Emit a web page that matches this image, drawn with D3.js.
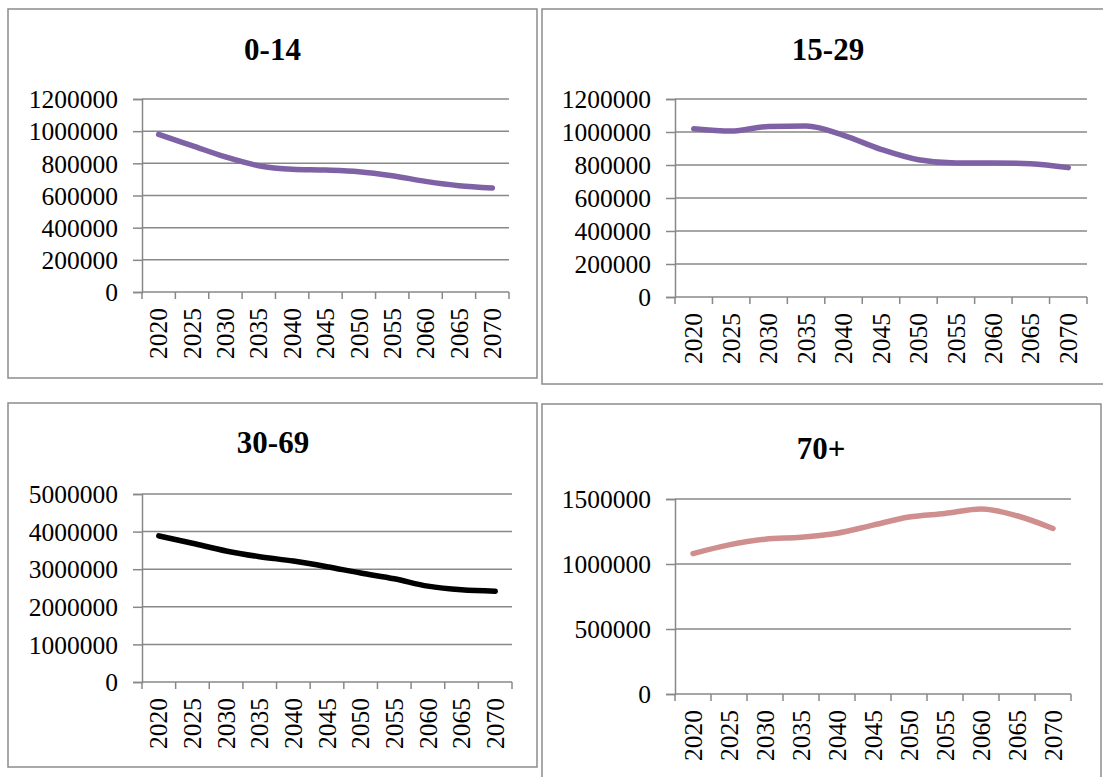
<!DOCTYPE html>
<html>
<head>
<meta charset="utf-8">
<script src="https://cdn.jsdelivr.net/npm/d3@7/dist/d3.min.js"></script>
<style>
  html, body { margin: 0; padding: 0; background: #fff; }
  svg { display: block; }
  text { font-family: "Liberation Serif", "Times New Roman", serif; fill: #000; }
</style>
</head>
<body>
<svg id="chart" width="1103" height="777"></svg>
<script>
// Projection years shared by all four age groups
const years = ["2020", "2025", "2030", "2035", "2040", "2045", "2050", "2055", "2060", "2065", "2070"];

// Population by age group
const age0to14 = [980000, 910000, 840000, 785000, 763000, 758000, 748000, 723000, 688000, 661000, 647000];
const age15to29 = [1020000, 1006000, 1034000, 1036000, 980000, 895000, 832000, 812000, 812000, 808000, 784000];
const age30to69 = [3886000, 3690000, 3485000, 3333000, 3217000, 3066000, 2897000, 2745000, 2549000, 2451000, 2415000];
const age70plus = [1080000, 1147000, 1191000, 1206000, 1237000, 1299000, 1361000, 1389000, 1423000, 1371000, 1273000];

// Value-axis tick labels
const ticksSmall = [0, 200000, 400000, 600000, 800000, 1000000, 1200000];
const ticksMid = [0, 1000000, 2000000, 3000000, 4000000, 5000000];
const ticksOld = [0, 500000, 1000000, 1500000];

const titles = ["0-14", "15-29", "30-69", "70+"];

// Frame, plot area and title placement of each small chart
const panels = [
  { title: titles[0], values: age0to14, ticks: ticksSmall, color: "#7f62a6",
    frame: [8, 9, 529, 369], plot: [142, 509, 99, 292], titleX: 272.5, titleY: 60 },
  { title: titles[1], values: age15to29, ticks: ticksSmall, color: "#7f62a6",
    frame: [542, 9, 575, 375], plot: [675, 1087, 99, 297], titleX: 828, titleY: 60 },
  { title: titles[2], values: age30to69, ticks: ticksMid, color: "#000000",
    frame: [8, 403, 529, 364], plot: [142, 512, 494, 682], titleX: 273, titleY: 453 },
  { title: titles[3], values: age70plus, ticks: ticksOld, color: "#d08f8f",
    frame: [542, 404, 559, 420], plot: [675, 1071, 499, 694], titleX: 821, titleY: 459 }
];

const svg = d3.select("#chart");
const gridColor = "#888888";

panels.forEach(p => {
  const g = svg.append("g");
  const [fx, fy, fw, fh] = p.frame;
  const [left, right, top, bottom] = p.plot;

  // outer frame
  g.append("rect")
    .attr("x", fx).attr("y", fy).attr("width", fw).attr("height", fh)
    .attr("fill", "#fff").attr("stroke", "#8c8c8c").attr("stroke-width", 1.5);

  // title
  g.append("text")
    .attr("x", p.titleX).attr("y", p.titleY)
    .attr("text-anchor", "middle")
    .style("font-size", "31px").style("font-weight", "bold")
    .text(p.title);

  const x = d3.scaleBand().domain(years).range([left, right]).paddingInner(0).paddingOuter(0);
  const y = d3.scaleLinear().domain([0, d3.max(p.ticks)]).range([bottom, top]);

  // horizontal gridlines
  g.append("g").selectAll("line").data(p.ticks.filter(t => t > 0)).join("line")
    .attr("x1", left).attr("x2", right)
    .attr("y1", d => y(d)).attr("y2", d => y(d))
    .attr("stroke", gridColor).attr("stroke-width", 1.5);

  // value axis
  const yAxis = d3.axisLeft(y).tickValues(p.ticks).tickSize(9).tickPadding(15)
    .tickFormat(d3.format("d"));
  const ya = g.append("g").attr("transform", `translate(${left},0)`).call(yAxis);
  ya.select(".domain").attr("stroke", gridColor).attr("stroke-width", 1.5);
  ya.selectAll(".tick line").attr("stroke", gridColor).attr("stroke-width", 1.5);
  ya.selectAll(".tick text")
    .attr("dy", "0.34em")
    .style("font-size", "25.5px").style("font-family", "'Liberation Serif', serif")
    .attr("fill", "#000");

  // category axis: baseline, boundary ticks and rotated year labels
  const xa = g.append("g");
  xa.append("line").attr("x1", left).attr("x2", right).attr("y1", bottom).attr("y2", bottom)
    .attr("stroke", gridColor).attr("stroke-width", 1.5);
  const bounds = years.map(yr => x(yr)).concat([x(years[years.length - 1]) + x.bandwidth()]);
  xa.selectAll("line.tk").data(bounds).join("line").attr("class", "tk")
    .attr("x1", d => d).attr("x2", d => d)
    .attr("y1", bottom).attr("y2", bottom + 7)
    .attr("stroke", gridColor).attr("stroke-width", 1.5);
  xa.selectAll("text").data(years).join("text")
    .attr("transform", d => `translate(${x(d) + x.bandwidth() / 2},${bottom + 16}) rotate(-90)`)
    .attr("text-anchor", "end")
    .attr("dy", "0.34em")
    .style("font-size", "25.5px")
    .text(d => d);

  // series line
  const line = d3.line()
    .x((d, i) => x(years[i]) + x.bandwidth() / 2)
    .y(d => y(d))
    .curve(d3.curveMonotoneX);
  g.append("path")
    .datum(p.values)
    .attr("d", line)
    .attr("fill", "none")
    .attr("stroke", p.color)
    .attr("stroke-width", 5.5)
    .attr("stroke-linecap", "round")
    .attr("stroke-linejoin", "round");
});
</script>
</body>
</html>
